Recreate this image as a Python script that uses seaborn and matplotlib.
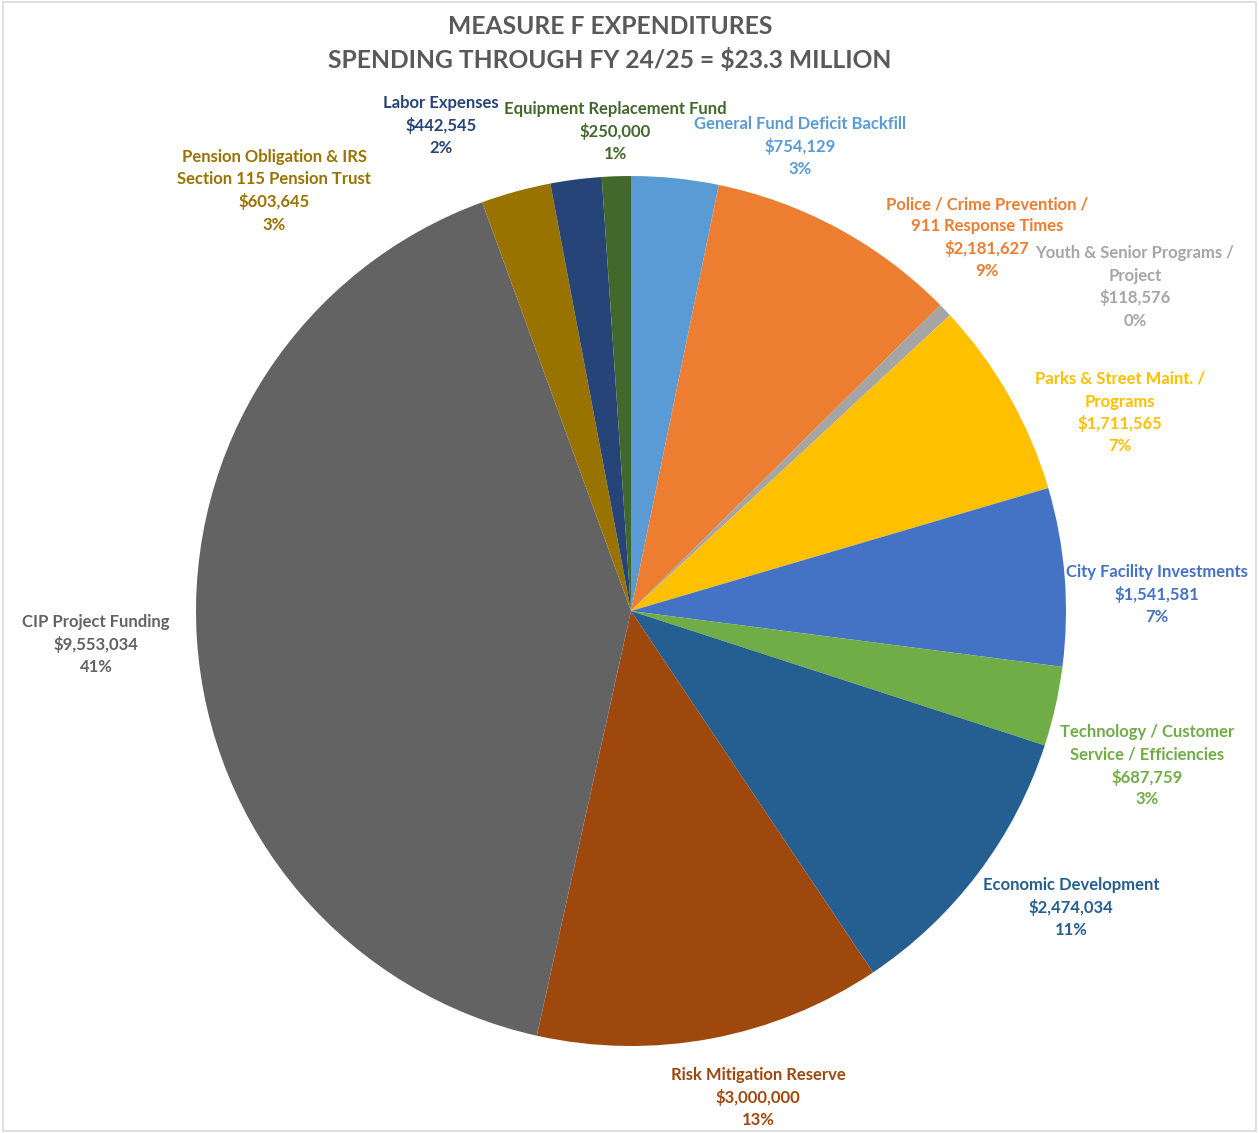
import matplotlib
matplotlib.use("Agg")
import matplotlib.pyplot as plt
import seaborn as sns
from matplotlib.patches import Rectangle

sns.set_theme(style="white")
plt.rcParams['font.family'] = ['Lato', 'DejaVu Sans']

# ---- data ----
categories = [
    "General Fund Deficit Backfill",
    "Police / Crime Prevention /\n911 Response Times",
    "Youth & Senior Programs /\nProject",
    "Parks & Street Maint. /\nPrograms",
    "City Facility Investments",
    "Technology / Customer\nService / Efficiencies",
    "Economic Development",
    "Risk Mitigation Reserve",
    "CIP Project Funding",
    "Pension Obligation & IRS\nSection 115 Pension Trust",
    "Labor Expenses",
    "Equipment Replacement Fund",
]
values = [754129, 2181627, 118576, 1711565, 1541581, 687759,
          2474034, 3000000, 9553034, 603645, 442545, 250000]
percents = ["3%", "9%", "0%", "7%", "7%", "3%", "11%", "13%", "41%", "3%", "2%", "1%"]
colors = ["#5B9BD5", "#ED7D31", "#A5A5A5", "#FFC000", "#4472C4", "#70AD47",
          "#255E91", "#9E480E", "#636363", "#997300", "#264478", "#43682B"]
title_lines = ["MEASURE F EXPENDITURES", "SPENDING THROUGH FY 24/25 = $23.3 MILLION"]

# ---- layout (pixel positions of label centres / top lines) ----
W, H = 1259, 1133
label_pos = [  # (x centre, y of first line centre)
    (800, 124), (987, 204), (1135, 253), (1120, 379), (1157, 572), (1147, 732),
    (1071, 885), (758, 1075), (96, 622), (274, 157), (441, 103), (615, 109),
]
line_h = 22.5

fig = plt.figure(figsize=(W / 100, H / 100), dpi=100)
fig.patch.set_facecolor("white")

cx, cy, r = 631, 611, 435
ax = fig.add_axes([(cx - r) / W, (H - cy - r) / H, 2 * r / W, 2 * r / H])
ax.pie(values, colors=colors, startangle=90, counterclock=False, radius=1.0,
       wedgeprops=dict(linewidth=0))
ax.set_xlim(-1, 1)
ax.set_ylim(-1, 1)
ax.set_aspect("equal")
ax.axis("off")

def fx(x):
    return x / W

def fy(y):
    return 1 - y / H

for name, val, pct, col, (x, y) in zip(categories, values, percents, colors, label_pos):
    lines = name.split("\n") + [f"${val:,}", pct]
    for i, ln in enumerate(lines):
        fig.text(fx(x), fy(y + i * line_h), ln, ha="center", va="center",
                 fontsize=12, fontweight="bold", color=col)

fig.text(fx(610), fy(26), title_lines[0], ha="center", va="center",
         fontsize=17.7, fontweight="bold", color="#595959")
fig.text(fx(610), fy(60), title_lines[1], ha="center", va="center",
         fontsize=17.7, fontweight="bold", color="#595959")

fig.add_artist(Rectangle((3 / W, 2 / H), (1256 - 3) / W, (1131 - 2) / H,
                         transform=fig.transFigure, fill=False,
                         edgecolor="#D9D9D9", linewidth=1.2))

fig.savefig("out.png", dpi=100, facecolor="white")
